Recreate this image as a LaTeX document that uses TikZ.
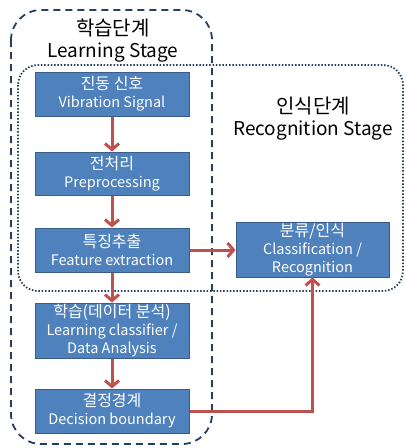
\documentclass[tikz,border=0pt]{standalone}
\usepackage{fontspec}
\setmainfont{Noto Sans CJK KR}
\usetikzlibrary{arrows.meta}
\definecolor{boxfill}{HTML}{4F81BD}
\definecolor{boxline}{HTML}{385D8A}
\definecolor{arr}{HTML}{C0504D}
\definecolor{frame}{HTML}{243F60}
\newcommand{\krbox}[1]{{\fontsize{16}{18}\selectfont #1}}
\newcommand{\krtitle}[1]{{\fontsize{20}{22}\selectfont #1}}
\begin{document}
\begin{tikzpicture}[x=1pt,y=-1pt,
  stagebox/.style={draw=boxline, fill=boxfill, line width=1pt, text=white,
    font=\fontsize{14.5}{18}\selectfont, align=center, inner sep=0pt,
    minimum width=154pt},
  title/.style={font=\fontsize{19}{22}\selectfont, align=center, inner sep=0pt},
  flow/.style={draw=arr, line width=3pt, -{Straight Barb[length=6pt,width=14pt]}}]
\useasboundingbox (0,0) rectangle (406,448);
\fill[white] (0,0) rectangle (406,448);
\draw[frame, line width=1.8pt, dash pattern=on 7pt off 5pt, rounded corners=30pt] (11,10) rectangle (212,444);
\draw[frame, line width=1.8pt, dash pattern=on 1.5pt off 1.8pt, rounded corners=20pt] (18,65) rectangle (403,291);
\node[title] (lt) at (113,41) {\krtitle{학습단계}\\Learning Stage};
\node[title] (rt) at (313,119) {\krtitle{인식단계}\\Recognition Stage};
\node[stagebox, minimum height=44pt] (vib) at (112,94) {\krbox{진동 신호}\\Vibration Signal};
\node[stagebox, minimum height=43pt] (pre) at (112,173.5) {\krbox{전처리}\\Preprocessing};
\node[stagebox, minimum height=44pt] (feat) at (112,250) {\krbox{특징추출}\\Feature extraction};
\node[stagebox, minimum width=153pt, minimum height=55pt] (cls) at (312.5,249.5) {\krbox{분류/인식}\\Classification /\\Recognition};
\node[stagebox, minimum height=55pt] (learn) at (112,330.5) {\krbox{학습(데이터 분석)}\\Learning classifier /\\Data Analysis};
\node[stagebox, minimum height=44pt] (dec) at (112,411) {\krbox{결정경계}\\Decision boundary};
\draw[flow] (vib) -- (pre);
\draw[flow] (pre) -- (feat);
\draw[flow] (feat) -- (learn);
\draw[flow] (learn) -- (dec);
\draw[flow] (feat.east) -- (cls.west |- feat.east);
\draw[flow] (dec.east) -| (cls.south);
\end{tikzpicture}
\end{document}
